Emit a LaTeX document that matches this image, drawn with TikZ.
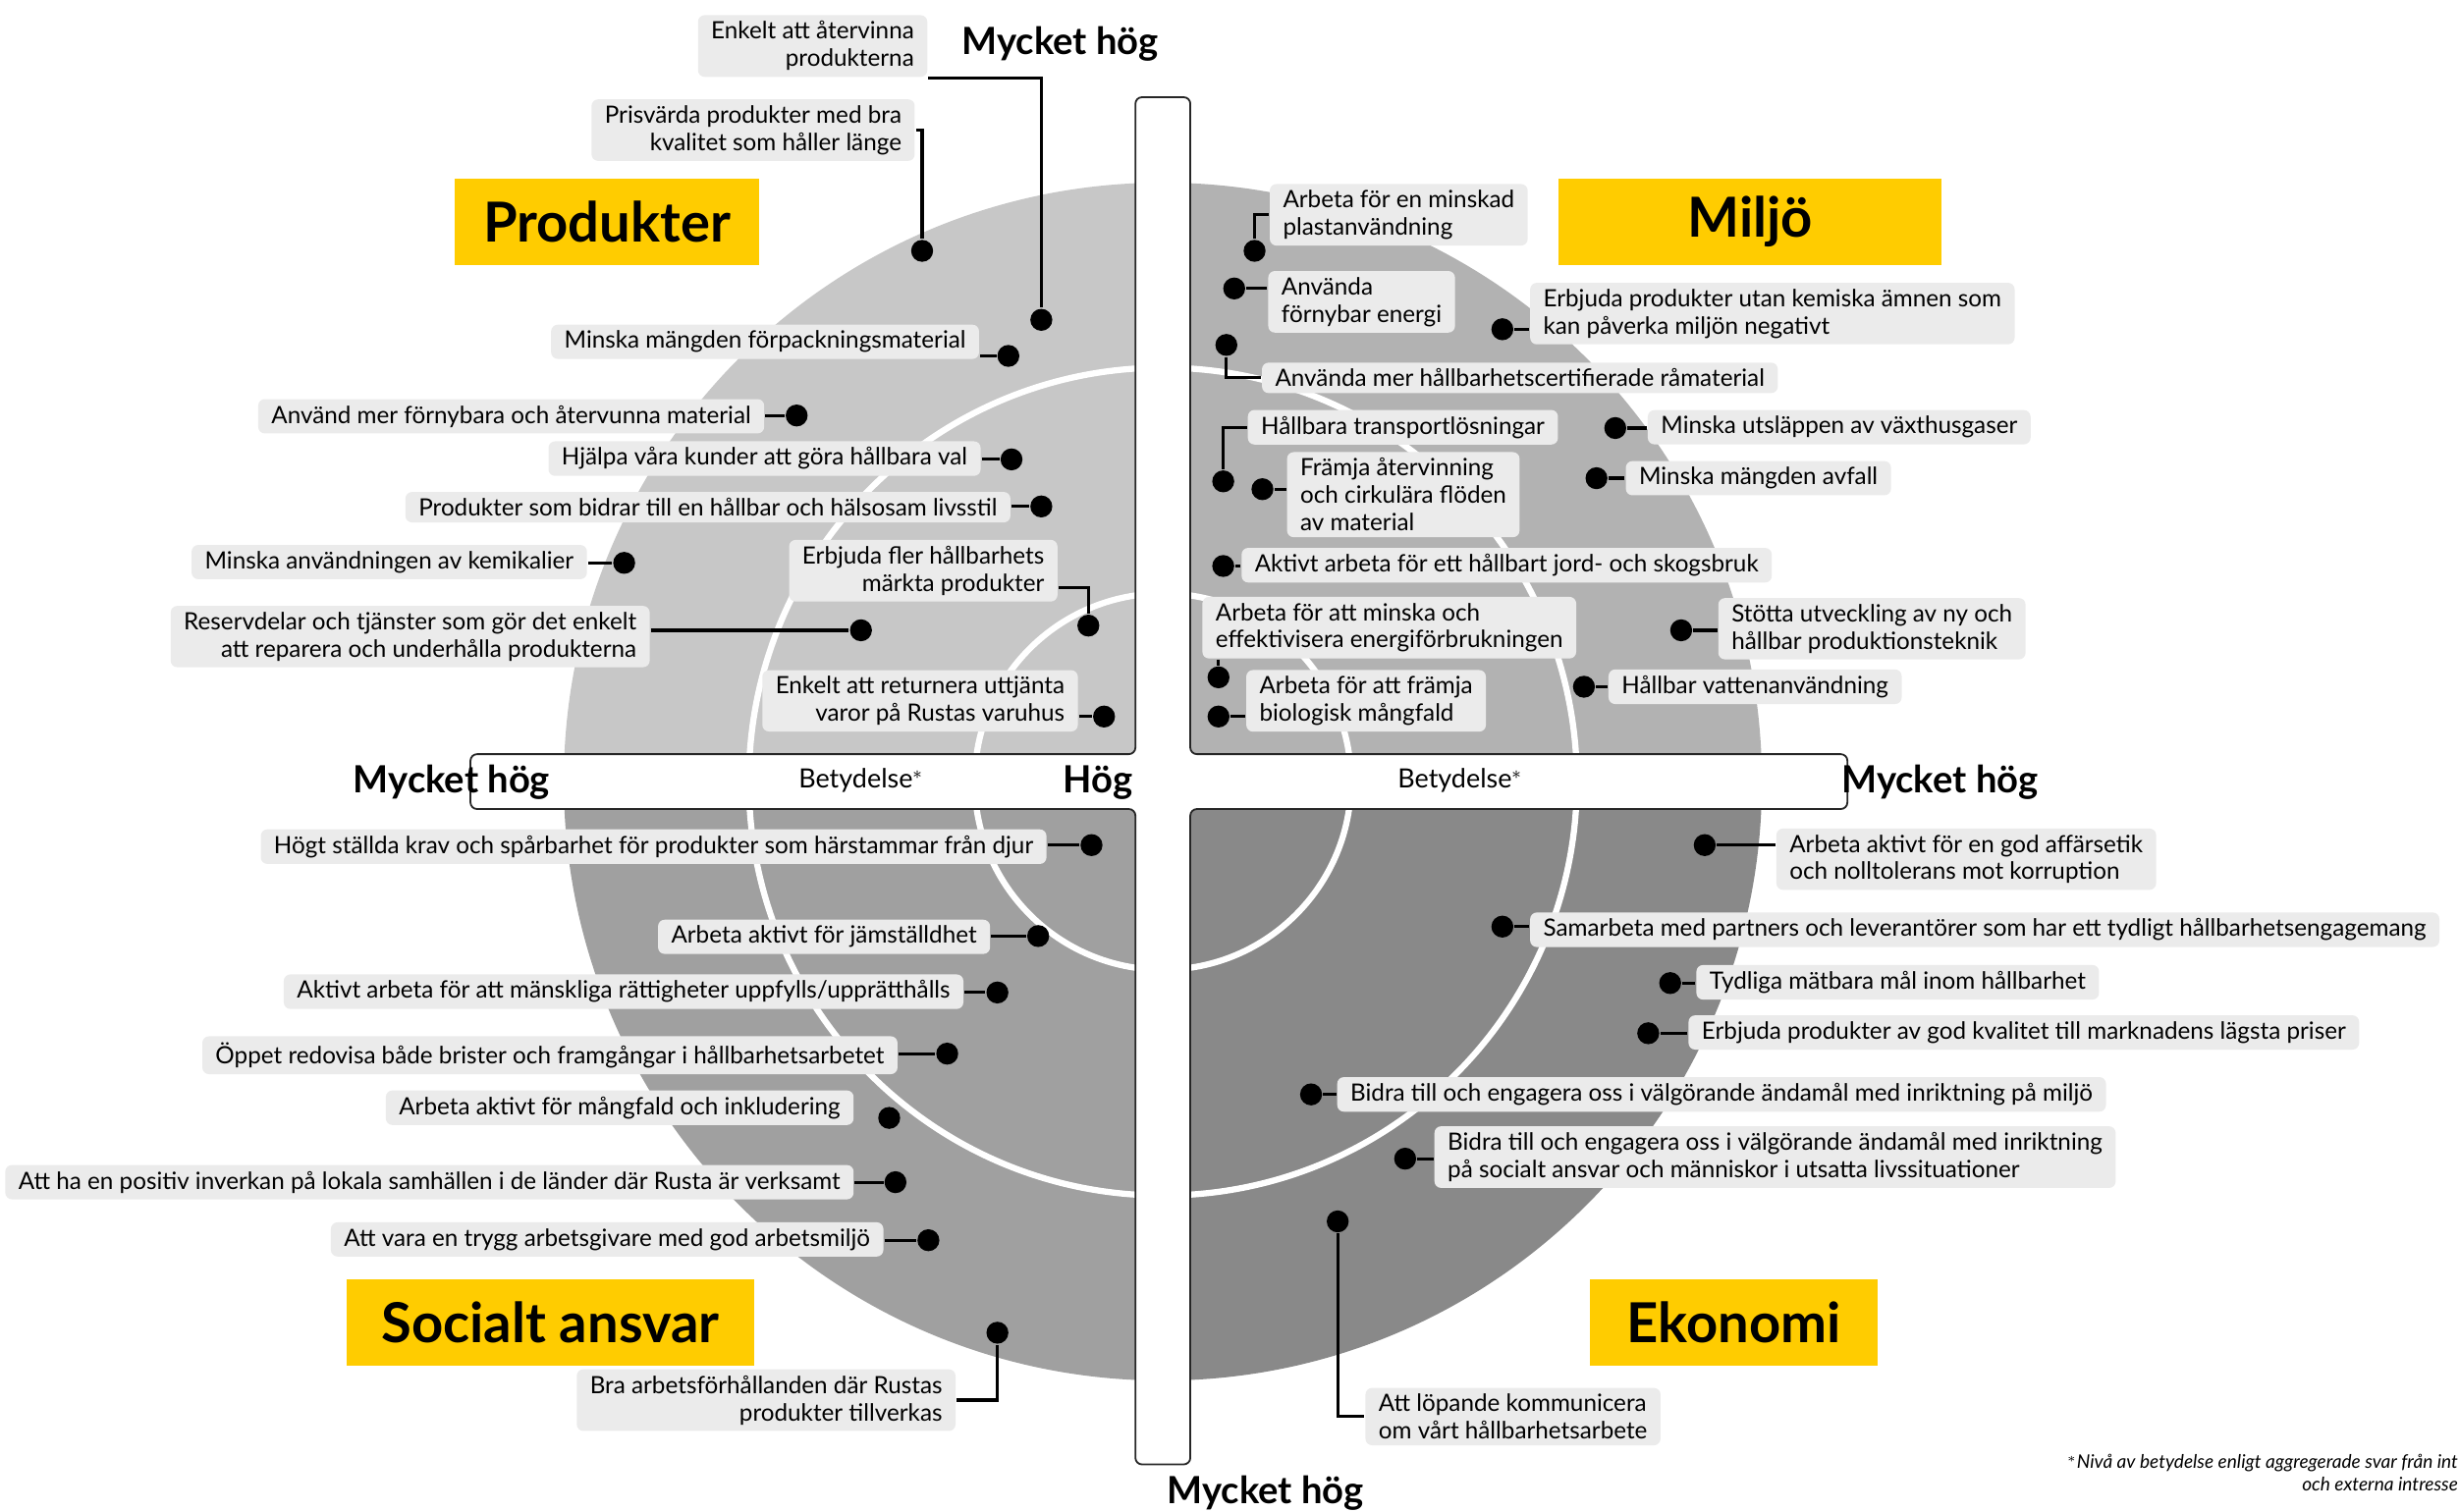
\documentclass[tikz,border=0pt]{standalone}
\usepackage{fontspec}
\setmainfont{Lato}
\tikzset{
every picture/.style={
line width=1pt
}}
\usetikzlibrary{positioning}

\definecolor{qtl}{RGB}{199,199,199}
\definecolor{qtr}{RGB}{178,178,178}
\definecolor{qbl}{RGB}{160,160,160}
\definecolor{qbr}{RGB}{137,137,137}
\definecolor{boxgray}{RGB}{235,235,235}
\definecolor{rustayellow}{RGB}{255,204,0}

\begin{document}
\begin{tikzpicture}[
    x = 0.025cm, y = -0.025cm,
      note/.style = {fill=boxgray, rounded corners=3pt, inner xsep=6pt,
                     inner ysep=2.8pt, font=\fontsize{10.8}{12.4}\selectfont},
     noteL/.style = {note, anchor=west, align=left},
     noteR/.style = {note, anchor=east, align=right},
      spot/.style = {circle, fill=black, inner sep=0pt, minimum size=0.35cm},
      link/.style = {draw, line width=1.4pt},
     theme/.style = {fill=rustayellow, minimum height=1.375cm,
                     font=\bfseries\fontsize{25}{30}\selectfont},
   axislbl/.style = {font=\bfseries\fontsize{17}{20}\selectfont},
       bar/.style = {draw=black!85, line width=0.8pt, fill=white, rounded corners=3pt},
      ring/.style = {draw=white, line width=2.8pt}
                    ]
\useasboundingbox (0,0) rectangle (1568,964);
% disk, one shade per quarter
\foreach \cx/\cy/\qc in {0/0/qtl, 1568/0/qtr, 0/964/qbl, 1568/964/qbr}{
  \begin{scope}
    \clip (741.5,498.5) rectangle (\cx,\cy);
    \fill[\qc] (741.5,498.5) circle[radius=382];
  \end{scope}
}
\draw[ring] (741.5,498.5) circle[radius=120] circle[radius=264];
% axes
\draw[bar] (724,62) -- (759,62) -- (759,481) -- (1178,481) -- (1178,516)
        -- (759,516) -- (759,934) -- (724,934) -- (724,516) -- (300,516)
        -- (300,481) -- (724,481) -- cycle;
\node[axislbl] (top)    at (676,28)  {Mycket hög};
\node[axislbl] (left)   at (288,499) {Mycket hög};
\node[axislbl] (mid)    at (700,499) {Hög};
\node[axislbl] (right)  at (1237,499) {Mycket hög};
\node[axislbl] (bottom) at (807,952) {Mycket hög};
\node[font=\fontsize{12}{14}\selectfont] (betL) at (549,498) {Betydelse$^{*}$};
\node[font=\fontsize{12}{14}\selectfont] (betR) at (931,498) {Betydelse$^{*}$};
% themes
\node[theme, minimum width=4.85cm]  (produkter) at (387,141.5)  {Produkter};
\node[theme, minimum width=6.1cm]   (miljo)     at (1116,141.5) {Miljö};
\node[theme, minimum width=6.5cm]   (socialt)   at (351,843.5)  {Socialt ansvar};
\node[theme, minimum width=4.575cm] (ekonomi)   at (1105.5,843.5) {Ekonomi};
%% Produkter
\node[spot] (d1)  at (664,204) {};
\node[spot] (d2)  at (588,160) {};
\node[spot] (d3)  at (643,227) {};
\node[spot] (d4)  at (508,265) {};
\node[spot] (d5)  at (645,293) {};
\node[spot] (d6)  at (664,323) {};
\node[spot] (d7)  at (398,359) {};
\node[spot] (d8)  at (694,399) {};
\node[spot] (d9)  at (549,402) {};
\node[spot] (d10) at (704,457) {};
\node[noteR, anchor=north east] (p1) at (592,9) {Enkelt att återvinna\\produkterna};
\node[noteR] (p2)  at (584,83)    {Prisvärda produkter med bra\\kvalitet som håller länge};
\node[noteR] (p3)  at (625,218)   {Minska mängden förpackningsmaterial};
\node[noteR] (p4)  at (488,265.5) {Använd mer förnybara och återvunna material};
\node[noteR] (p5)  at (626,292.5) {Hjälpa våra kunder att göra hållbara val};
\node[noteR] (p6)  at (645,323.5) {Produkter som bidrar till en hållbar och hälsosam livsstil};
\node[noteR] (p7)  at (375,358.5) {Minska användningen av kemikalier};
\node[noteR] (p8)  at (675,364)   {Erbjuda fler hållbarhets\\märkta produkter};
\node[noteR] (p9)  at (415,406)   {Reservdelar och tjänster som gör det enkelt\\att reparera och underhålla produkterna};
\node[noteR] (p10) at (688,447)   {Enkelt att returnera uttjänta\\varor på Rustas varuhus};
%% Miljö
\node[spot] (e1)  at (800,160) {};
\node[spot] (e2)  at (787,184) {};
\node[spot] (e3)  at (958,210) {};
\node[spot] (e4)  at (782,220) {};
\node[spot] (e5)  at (780,307) {};
\node[spot] (e6)  at (805,312) {};
\node[spot] (e7)  at (1030,273) {};
\node[spot] (e8)  at (1018,305) {};
\node[spot] (e9)  at (780,361) {};
\node[spot] (e10) at (777,432) {};
\node[spot] (e11) at (777,457) {};
\node[spot] (e12) at (1072,402) {};
\node[spot] (e13) at (1010,438) {};
\node[noteL] (q1)  at (809,137)    {Arbeta för en minskad\\plastanvändning};
\node[noteL] (q2)  at (808,192.5)  {Använda\\förnybar energi};
\node[noteL] (q3)  at (975,200)    {Erbjuda produkter utan kemiska ämnen som\\kan påverka miljön negativt};
\node[noteL] (q4)  at (804,241)    {Använda mer hållbarhetscertifierade råmaterial};
\node[noteL] (q5)  at (795,272.5)  {Hållbara transportlösningar};
\node[noteL] (q6)  at (820,315.5)  {Främja återvinning\\och cirkulära flöden\\av material};
\node[noteL] (q7)  at (1050,272.5) {Minska utsläppen av växthusgaser};
\node[noteL] (q8)  at (1036,305)   {Minska mängden avfall};
\node[noteL] (q9)  at (791,360.5)  {Aktivt arbeta för ett hållbart jord- och skogsbruk};
\node[noteL, anchor=north west] (q10) at (766,380) {Arbeta för att minska och\\effektivisera energiförbrukningen};
\node[noteL] (q11) at (794,447)    {Arbeta för att främja\\biologisk mångfald};
\node[noteL] (q12) at (1095,401)   {Stötta utveckling av ny och\\hållbar produktionsteknik};
\node[noteL] (q13) at (1025,438)   {Hållbar vattenanvändning};
%% Socialt ansvar
\node[spot] (s1) at (696,539) {};
\node[spot] (s2) at (662,597) {};
\node[spot] (s3) at (636,633) {};
\node[spot] (s4) at (604,672) {};
\node[spot] (s5) at (567,713) {};
\node[spot] (s6) at (571,754) {};
\node[spot] (s7) at (592,791) {};
\node[spot] (s8) at (636,850) {};
\node[noteR] (r1) at (668,540)   {Högt ställda krav och spårbarhet för produkter som härstammar från djur};
\node[noteR] (r2) at (632,597.5) {Arbeta aktivt för jämställdhet};
\node[noteR] (r3) at (615,632.5) {Aktivt arbeta för att mänskliga rättigheter uppfylls/upprätthålls};
\node[noteR] (r4) at (573,673)   {Öppet redovisa både brister och framgångar i hållbarhetsarbetet};
\node[noteR] (r5) at (545,706.5) {Arbeta aktivt för mångfald och inkludering};
\node[noteR] (r6) at (545,754)   {Att ha en positiv inverkan på lokala samhällen i de länder där Rusta är verksamt};
\node[noteR] (r7) at (564,790.5) {Att vara en trygg arbetsgivare med god arbetsmiljö};
\node[noteR] (r8) at (610,893)   {Bra arbetsförhållanden där Rustas\\produkter tillverkas};
%% Ekonomi
\node[spot] (t1) at (1087,539) {};
\node[spot] (t2) at (958,591) {};
\node[spot] (t3) at (1065,627) {};
\node[spot] (t4) at (1051,659) {};
\node[spot] (t5) at (836,698) {};
\node[spot] (t6) at (896,739) {};
\node[spot] (t7) at (853,779) {};
\node[noteL] (u1) at (1132,548)   {Arbeta aktivt för en god affärsetik\\och nolltolerans mot korruption};
\node[noteL] (u2) at (975,593)    {Samarbeta med partners och leverantörer som har ett tydligt hållbarhetsengagemang};
\node[noteL] (u3) at (1081,626.5) {Tydliga mätbara mål inom hållbarhet};
\node[noteL] (u4) at (1076,658.5) {Erbjuda produkter av god kvalitet till marknadens lägsta priser};
\node[noteL] (u5) at (852,698)    {Bidra till och engagera oss i välgörande ändamål med inriktning på miljö};
\node[noteL] (u6) at (914,738)    {Bidra till och engagera oss i välgörande ändamål med inriktning\\på socialt ansvar och människor i utsatta livssituationer};
\node[noteL] (u7) at (870,903.5)  {Att löpande kommunicera\\om vårt hållbarhetsarbete};
%% footnote
\node[anchor=north east, align=right, inner sep=0pt,
      font=\itshape\fontsize{8.5}{9.9}\selectfont] (foot) at (1568,927)
      {$^{*}$Nivå av betydelse enligt aggregerade svar från int\\och externa intresse};
%% connectors
\draw[link]
    (p1.south east) -| (d1)
    (p2.east) -| (d2)
    (p3.east |- d3) -- (d3)
    (p4.east |- d4) -- (d4)
    (p5.east |- d5) -- (d5)
    (p6.east |- d6) -- (d6)
    (p7.east |- d7) -- (d7)
    ([yshift=-7.8pt]p8.east) -| (d8)
    (p9.east |- d9) -- (d9)
    (p10.east |- d10) -- (d10)
    (q1.west) -| (e1)
    (q2.west |- e2) -- (e2)
    (q3.west |- e3) -- (e3)
    (e4) |- (q4.west)
    (q5.west) -| (e5)
    (q6.west |- e6) -- (e6)
    (q7.west |- e7) -- (e7)
    (q8.west |- e8) -- (e8)
    (q9.west |- e9) -- (e9)
    (e10 |- q10.south) -- (e10)
    (q11.west |- e11) -- (e11)
    (q12.west |- e12) -- (e12)
    (q13.west |- e13) -- (e13)
    (r1.east |- s1) -- (s1)
    (r2.east |- s2) -- (s2)
    (r3.east |- s3) -- (s3)
    (r4.east |- s4) -- (s4)
    (r6.east |- s6) -- (s6)
    (r7.east |- s7) -- (s7)
    (r8.east) -| (s8)
    (u1.west |- t1) -- (t1)
    (u2.west |- t2) -- (t2)
    (u3.west |- t3) -- (t3)
    (u4.west |- t4) -- (t4)
    (u5.west |- t5) -- (t5)
    (u6.west |- t6) -- (t6)
    (t7) |- (u7.west);
\end{tikzpicture}
\end{document}
